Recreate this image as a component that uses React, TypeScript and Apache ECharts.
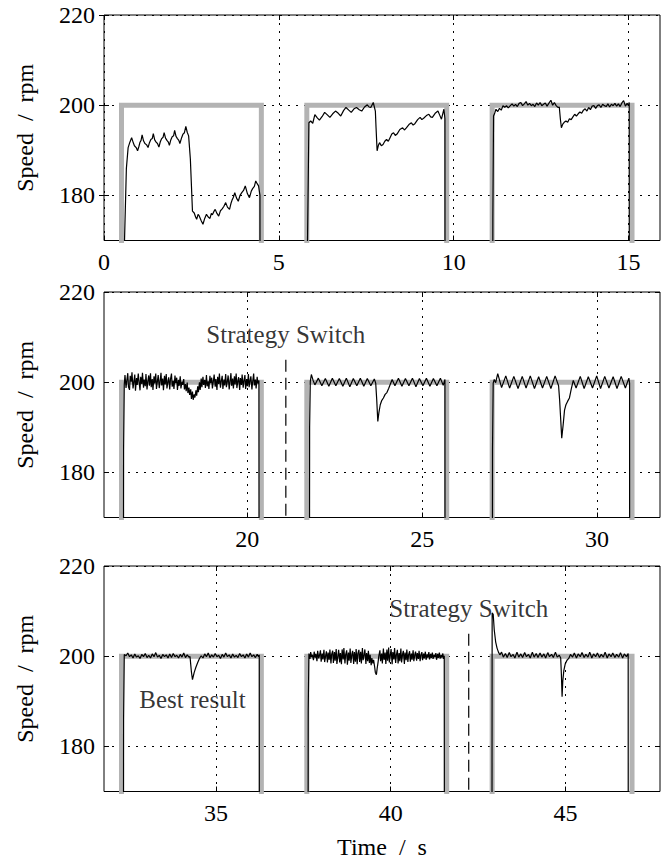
import React, { useEffect, useRef } from "react";
import * as echarts from "echarts";

// ---- axes ----
const panelMin = [0, 15.9, 31.8];
const panelMax = [15.9, 31.8, 47.7];
const xTickValues = [
  [0, 5, 10, 15],
  [20, 25, 30],
  [35, 40, 45],
];
const yTickValues = [180, 200, 220];
const yMin = 170;
const yMax = 220;

// ---- reference speed (pulses: on at 200 rpm, off at 0 rpm) ----
const pulseOn = [0.5, 5.8, 11.1, 16.4, 21.7, 27.0, 32.3, 37.6, 42.9];
const pulseOff = [4.5, 9.8, 15.1, 20.4, 25.7, 31.0, 36.3, 41.6, 46.9];
const refLevel = 200;
const refOffLevel = 0;

// ---- measured speed, one array per pulse: [time s, speed rpm] ----
const speed1: number[][] = [
  [0.55, 0], [0.58, 168], [0.64, 186], [0.69, 190.6], [0.74, 191.8], [0.79, 192.8], [0.84, 191.6], [0.87, 191.0], [0.92, 190.6], [0.96, 189.9],
  [1.00, 190.9], [1.03, 191.8], [1.06, 192.2], [1.09, 193.4], [1.13, 192.1], [1.17, 191.5], [1.22, 191.2], [1.26, 190.6], [1.30, 191.7], [1.34, 192.4], [1.38, 192.6], [1.41, 193.7], [1.45, 192.3], [1.49, 191.8],
  [1.53, 191.5], [1.57, 190.7], [1.61, 191.9], [1.65, 192.6], [1.69, 192.9], [1.72, 193.9], [1.76, 192.7], [1.80, 192.2], [1.84, 191.8], [1.87, 191.1], [1.91, 192.3], [1.95, 193.0],
  [1.99, 193.2], [2.02, 194.4], [2.06, 193.1], [2.10, 192.6], [2.14, 192.2], [2.17, 191.5], [2.22, 192.8], [2.26, 193.6], [2.30, 193.9], [2.34, 195.3], [2.38, 194.0], [2.42, 193.2], [2.47, 188],
  [2.53, 176.5], [2.58, 176.1], [2.62, 175.2], [2.65, 174.7], [2.69, 175.8], [2.72, 175.5], [2.78, 174.4], [2.83, 173.6], [2.88, 174.9], [2.93, 175.8], [2.98, 175.2], [3.03, 174.9],
  [3.07, 176.0], [3.10, 175.7], [3.14, 176.4], [3.18, 176.9], [3.23, 176.0], [3.28, 175.4], [3.33, 176.6], [3.38, 177.0], [3.43, 177.6], [3.48, 178.4], [3.53, 177.4], [3.59, 176.9], [3.63, 178.2], [3.66, 178.9], [3.70, 179.6], [3.74, 180.6],
  [3.79, 179.4], [3.84, 178.7], [3.89, 180.0], [3.94, 180.6], [3.99, 181.1], [4.04, 182.1], [4.10, 180.4], [4.16, 179.5], [4.21, 180.9], [4.25, 181.5], [4.30, 182.0], [4.34, 183.2], [4.38, 182.6], [4.42, 182.1], [4.46, 180], [4.47, 0],
];
const speed2: number[][] = [
  [5.80, 0], [5.82, 170], [5.86, 196.1], [5.91, 196.5], [5.97, 196.0], [6.03, 197.9], [6.10, 197.2], [6.16, 196.7],
  [6.24, 197.5], [6.31, 198.4], [6.38, 197.9], [6.46, 197.3], [6.54, 198.1], [6.62, 198.7], [6.70, 198.2], [6.77, 197.6],
  [6.85, 198.8], [6.92, 199.5], [7.00, 198.9], [7.07, 198.4], [7.15, 199.2], [7.22, 199.5], [7.30, 199.0], [7.37, 198.7],
  [7.45, 199.6], [7.53, 200.1], [7.58, 199.6], [7.63, 199.5], [7.70, 200.6], [7.76, 198.7], [7.78, 195], [7.81, 189.9],
  [7.85, 191.2], [7.88, 191.7], [7.93, 191.0], [7.98, 191.3], [8.03, 192.0], [8.08, 192.4], [8.13, 192.0], [8.18, 192.8],
  [8.23, 193.6], [8.28, 193.9], [8.33, 193.3], [8.38, 193.6], [8.46, 194.6], [8.54, 195.0], [8.59, 194.5], [8.64, 194.9],
  [8.72, 195.7], [8.79, 196.1], [8.84, 195.6], [8.89, 195.9], [8.97, 196.8], [9.04, 197.3], [9.09, 196.8], [9.14, 197.1],
  [9.22, 197.7], [9.29, 198.0], [9.34, 197.4], [9.39, 197.3], [9.47, 198.2], [9.55, 198.7], [9.60, 197.8], [9.65, 196.9],
  [9.72, 199.1], [9.75, 197], [9.76, 0],
];
const speed3: number[][] = [
  [11.10, 0], [11.12, 175], [11.14, 197.6], [11.18, 198.4], [11.21, 199.1], [11.26, 198.6], [11.31, 199.3], [11.36, 198.9],
  [11.41, 199.9], [11.46, 199.5], [11.51, 199.9], [11.56, 199.4], [11.62, 199.9], [11.67, 200.3], [11.72, 199.8], [11.77, 200.2],
  [11.82, 199.7], [11.87, 200.4], [11.92, 200.6], [11.97, 199.9], [12.02, 200.3], [12.07, 200.8], [12.12, 200.0], [12.17, 200.4],
  [12.22, 199.9], [12.27, 200.2], [12.32, 199.7], [12.37, 200.5], [12.42, 200.0], [12.47, 200.6], [12.52, 199.9], [12.57, 200.2],
  [12.62, 200.5], [12.67, 199.8], [12.72, 200.4], [12.78, 201.1], [12.83, 200.0], [12.88, 200.6], [12.93, 199.9], [12.98, 199.5],
  [13.02, 199.6], [13.05, 197], [13.08, 195.0], [13.12, 195.8], [13.16, 196.2], [13.21, 196.5], [13.26, 196.2], [13.31, 197.0],
  [13.36, 196.8], [13.41, 197.4], [13.46, 198.0], [13.51, 197.6], [13.56, 198.1], [13.61, 198.5], [13.66, 198.2], [13.71, 198.9],
  [13.76, 199.2], [13.81, 198.7], [13.86, 199.5], [13.91, 199.0], [13.96, 199.8], [14.01, 199.9], [14.06, 199.3], [14.11, 199.9],
  [14.16, 200.1], [14.21, 199.5], [14.26, 200.2], [14.31, 199.9], [14.36, 199.7], [14.41, 200.3], [14.46, 199.6], [14.51, 200.2],
  [14.56, 199.9], [14.61, 200.4], [14.66, 199.8], [14.71, 200.3], [14.76, 199.7], [14.81, 200.5], [14.86, 201.0], [14.91, 199.8],
  [14.96, 200.4], [15.00, 199.9], [15.02, 200.6], [15.03, 0],
];
const speed4: number[][] = [
  [16.44, 0], [16.46, 185], [16.48, 199.5], [16.50, 201.6], [16.53, 198.7], [16.55, 200.2], [16.58, 202.0], [16.60, 199.0],
  [16.63, 198.3], [16.65, 201.4], [16.68, 200.1], [16.70, 202.2], [16.73, 198.6], [16.75, 199.8], [16.78, 201.7], [16.80, 198.1],
  [16.83, 200.9], [16.85, 199.4], [16.88, 201.9], [16.90, 200.3], [16.93, 198.2], [16.95, 201.2], [16.98, 199.6], [17.00, 202.1],
  [17.03, 198.8], [17.05, 200.6], [17.08, 199.1], [17.10, 201.8], [17.13, 198.4], [17.15, 200.0], [17.18, 201.5], [17.20, 199.2],
  [17.23, 202.0], [17.25, 198.9], [17.28, 200.7], [17.30, 198.3], [17.33, 201.3], [17.35, 199.7], [17.38, 201.9], [17.40, 198.5],
  [17.43, 200.4], [17.45, 201.6], [17.48, 198.7], [17.50, 199.9], [17.53, 202.1], [17.55, 199.3], [17.58, 200.8], [17.60, 198.2],
  [17.63, 201.4], [17.65, 199.5], [17.68, 201.8], [17.70, 198.6], [17.73, 200.2], [17.75, 201.1], [17.78, 198.4], [17.80, 200.6],
  [17.83, 201.9], [17.85, 199.0], [17.88, 200.3], [17.90, 198.5], [17.93, 201.5], [17.95, 199.8], [17.98, 201.0], [18.00, 198.3],
  [18.03, 200.5], [18.05, 199.2], [18.08, 201.3], [18.10, 198.6], [18.13, 200.1], [18.15, 199.4], [18.18, 200.7], [18.20, 198.4],
  [18.23, 199.6], [18.25, 198.0], [18.28, 199.9], [18.30, 197.6], [18.33, 198.8], [18.35, 197.2], [18.38, 198.4], [18.40, 196.3],
  [18.43, 197.9], [18.45, 196.1], [18.48, 197.3], [18.50, 196.6], [18.53, 198.2], [18.55, 197.0], [18.58, 199.1], [18.60, 197.8],
  [18.63, 200.0], [18.65, 198.3], [18.68, 200.8], [18.70, 198.9], [18.73, 201.2], [18.75, 199.4], [18.78, 200.5], [18.80, 198.7],
  [18.83, 201.6], [18.85, 199.1], [18.88, 200.2], [18.90, 198.5], [18.93, 201.4], [18.95, 199.8], [18.98, 201.0], [19.00, 198.6],
  [19.03, 200.4], [19.05, 201.7], [19.08, 199.0], [19.10, 200.7], [19.13, 198.3], [19.15, 201.2], [19.18, 199.6], [19.20, 201.9],
  [19.23, 198.8], [19.25, 200.1], [19.28, 201.4], [19.30, 198.5], [19.33, 200.6], [19.35, 199.3], [19.38, 201.8], [19.40, 198.9],
  [19.43, 200.3], [19.45, 201.5], [19.48, 198.4], [19.50, 199.9], [19.53, 202.0], [19.55, 199.2], [19.58, 200.8], [19.60, 198.6],
  [19.63, 201.3], [19.65, 199.5], [19.68, 201.9], [19.70, 198.7], [19.73, 200.4], [19.75, 201.1], [19.78, 198.3], [19.80, 200.9],
  [19.83, 199.4], [19.85, 201.7], [19.88, 198.8], [19.90, 200.2], [19.93, 201.6], [19.95, 198.5], [19.98, 200.7], [20.00, 199.1],
  [20.03, 201.8], [20.05, 198.9], [20.08, 200.5], [20.10, 201.3], [20.13, 198.4], [20.15, 200.0], [20.18, 201.9], [20.20, 199.3],
  [20.23, 200.6], [20.25, 198.6], [20.28, 201.2], [20.30, 199.7], [20.33, 200.4], [20.35, 0],
];
const speed5: number[][] = [
  [21.76, 0], [21.78, 190], [21.80, 200.2], [21.83, 201.7], [21.88, 200.4], [21.93, 199.4], [22.03, 200.9], [22.13, 199.2],
  [22.23, 200.8], [22.33, 199.1], [22.43, 200.9], [22.53, 199.2], [22.63, 200.8], [22.73, 199.1], [22.83, 200.9], [22.93, 199.0],
  [23.03, 200.8], [23.13, 199.2], [23.23, 200.9], [23.33, 199.1], [23.43, 200.8], [23.53, 199.2], [23.63, 200.7], [23.67, 199.8],
  [23.70, 196], [23.73, 191.3], [23.76, 193.2], [23.80, 195.0], [23.84, 195.9], [23.89, 196.5], [23.94, 197.3], [23.99, 197.7],
  [24.04, 198.6], [24.09, 199.6], [24.14, 200.6], [24.22, 199.2], [24.32, 200.9], [24.42, 199.1], [24.52, 200.8], [24.62, 199.2],
  [24.72, 200.9], [24.82, 199.0], [24.92, 200.8], [25.02, 199.2], [25.12, 200.9], [25.22, 199.1], [25.32, 200.8], [25.42, 199.2],
  [25.52, 200.9], [25.60, 199.3], [25.65, 200.6], [25.66, 0],
];
const speed6: number[][] = [
  [26.99, 0], [27.01, 185], [27.03, 199.8], [27.06, 200.6], [27.10, 199.9], [27.16, 201.9], [27.27, 198.8], [27.39, 201.4],
  [27.50, 198.7], [27.62, 201.3], [27.74, 198.6], [27.86, 201.3], [27.97, 198.7], [28.09, 201.4], [28.21, 198.6], [28.33, 201.2],
  [28.44, 198.7], [28.56, 201.3], [28.68, 198.6], [28.80, 201.4], [28.90, 199.2], [28.93, 196], [28.99, 187.6], [29.03, 190.5],
  [29.07, 193.8], [29.11, 195.0], [29.16, 195.8], [29.21, 196.5], [29.26, 198.4], [29.32, 200.4], [29.40, 198.7], [29.52, 201.3],
  [29.63, 198.6], [29.75, 201.2], [29.87, 198.7], [29.99, 201.4], [30.10, 198.6], [30.22, 201.3], [30.34, 198.7], [30.46, 201.2],
  [30.57, 198.6], [30.69, 201.3], [30.81, 198.7], [30.91, 200.9], [30.93, 199.8], [30.94, 0],
];
const speed7: number[][] = [
  [32.34, 0], [32.36, 186], [32.38, 200.4], [32.43, 200.1], [32.48, 200.7], [32.53, 199.9], [32.58, 200.3], [32.63, 199.6],
  [32.68, 200.5], [32.73, 199.8], [32.78, 200.1], [32.83, 199.5], [32.88, 200.4], [32.93, 199.9], [32.98, 200.6], [33.03, 199.7],
  [33.08, 200.2], [33.13, 199.6], [33.18, 200.5], [33.23, 199.9], [33.28, 200.8], [33.33, 199.8], [33.38, 200.2], [33.43, 199.5],
  [33.48, 200.4], [33.53, 199.9], [33.58, 200.3], [33.63, 199.6], [33.68, 200.5], [33.73, 199.7], [33.78, 200.6], [33.83, 199.9],
  [33.88, 200.2], [33.93, 199.6], [33.98, 200.4], [34.03, 199.8], [34.08, 200.7], [34.13, 199.7], [34.18, 200.3], [34.23, 199.8],
  [34.26, 199.9], [34.30, 196.5], [34.33, 194.8], [34.38, 196.4], [34.43, 197.6], [34.48, 198.6], [34.53, 199.5], [34.58, 200.1],
  [34.63, 199.6], [34.68, 200.5], [34.73, 199.9], [34.78, 200.7], [34.83, 199.7], [34.88, 200.3], [34.93, 199.8], [34.98, 200.6],
  [35.03, 199.9], [35.08, 200.2], [35.13, 199.5], [35.18, 200.4], [35.23, 199.8], [35.28, 200.7], [35.33, 199.9], [35.38, 200.3],
  [35.43, 199.6], [35.48, 200.5], [35.53, 199.8], [35.58, 200.2], [35.63, 199.7], [35.68, 200.6], [35.73, 199.9], [35.78, 200.3],
  [35.83, 199.6], [35.88, 200.5], [35.93, 199.8], [35.98, 200.7], [36.03, 199.9], [36.08, 200.3], [36.13, 199.7], [36.18, 200.4],
  [36.22, 199.9], [36.24, 200.3], [36.25, 0],
];
const speed8: number[][] = [
  [37.62, 0], [37.64, 188], [37.66, 200.6], [37.69, 199.4], [37.71, 200.9], [37.74, 199.8], [37.76, 200.3], [37.79, 199.1],
  [37.81, 201.0], [37.84, 199.7], [37.86, 200.5], [37.89, 198.9], [37.91, 201.2], [37.94, 199.5], [37.96, 200.1], [37.99, 201.3],
  [38.01, 198.8], [38.04, 200.6], [38.06, 199.3], [38.09, 201.4], [38.11, 198.7], [38.14, 200.2], [38.16, 201.1], [38.19, 198.6],
  [38.21, 200.8], [38.24, 199.2], [38.26, 201.5], [38.29, 198.4], [38.31, 200.4], [38.34, 201.2], [38.36, 198.5], [38.39, 200.9],
  [38.41, 199.0], [38.44, 201.6], [38.46, 198.3], [38.49, 200.1], [38.51, 201.4], [38.54, 198.6], [38.56, 200.7], [38.59, 198.2],
  [38.61, 201.5], [38.64, 199.3], [38.66, 201.8], [38.69, 198.4], [38.71, 200.3], [38.74, 201.3], [38.76, 198.1], [38.79, 200.8],
  [38.81, 199.0], [38.84, 201.7], [38.86, 198.5], [38.89, 200.5], [38.91, 201.2], [38.94, 198.3], [38.96, 200.9], [38.99, 198.8],
  [39.01, 201.6], [39.04, 198.2], [39.06, 200.6], [39.09, 201.4], [39.11, 198.7], [39.14, 201.0], [39.16, 198.4], [39.19, 201.8],
  [39.21, 199.1], [39.24, 200.4], [39.26, 201.5], [39.29, 198.3], [39.31, 200.7], [39.34, 198.9], [39.36, 201.2], [39.39, 198.5],
  [39.41, 200.3], [39.44, 198.0], [39.46, 199.6], [39.49, 198.4], [39.51, 199.2], [39.54, 197.6], [39.56, 196.4], [39.59, 195.9],
  [39.61, 197.2], [39.64, 198.8], [39.66, 200.1], [39.69, 201.3], [39.71, 198.9], [39.74, 200.6], [39.76, 198.4], [39.79, 201.7],
  [39.81, 199.2], [39.84, 200.8], [39.86, 198.3], [39.89, 201.5], [39.91, 199.0], [39.94, 201.9], [39.96, 198.6], [39.99, 200.4],
  [40.01, 201.6], [40.04, 198.2], [40.06, 200.9], [40.09, 199.3], [40.11, 201.8], [40.14, 198.5], [40.16, 200.2], [40.19, 201.4],
  [40.21, 198.4], [40.24, 200.7], [40.26, 198.9], [40.29, 201.7], [40.31, 198.6], [40.34, 200.5], [40.36, 201.2], [40.39, 198.3],
  [40.41, 200.8], [40.44, 199.1], [40.46, 201.5], [40.49, 198.7], [40.51, 200.3], [40.54, 201.1], [40.56, 198.8], [40.59, 200.6],
  [40.61, 199.2], [40.64, 201.3], [40.66, 198.9], [40.69, 200.4], [40.71, 201.0], [40.74, 199.0], [40.76, 200.7], [40.79, 199.4],
  [40.81, 201.2], [40.84, 198.9], [40.86, 200.2], [40.89, 200.9], [40.91, 199.1], [40.94, 200.6], [40.96, 199.5], [40.99, 201.0],
  [41.01, 199.2], [41.04, 200.4], [41.06, 199.7], [41.09, 200.9], [41.11, 199.3], [41.14, 200.5], [41.16, 199.6], [41.19, 200.8],
  [41.21, 199.4], [41.24, 200.3], [41.26, 199.8], [41.29, 200.7], [41.31, 199.2], [41.34, 200.5], [41.36, 199.6], [41.39, 200.8],
  [41.41, 199.5], [41.44, 200.2], [41.46, 199.7], [41.49, 200.6], [41.51, 199.4], [41.53, 200.1], [41.55, 0],
];
const speed9: number[][] = [
  [42.88, 0], [42.90, 209.6], [42.93, 209.3], [42.96, 205.8], [43.00, 203.2], [43.04, 201.8], [43.08, 200.9], [43.12, 200.3],
  [43.17, 200.9], [43.22, 199.8], [43.28, 200.6], [43.33, 199.7], [43.39, 200.8], [43.44, 199.9], [43.50, 200.4], [43.55, 199.6],
  [43.61, 200.9], [43.66, 199.8], [43.72, 200.5], [43.77, 199.7], [43.83, 200.8], [43.88, 199.9], [43.94, 200.4], [43.99, 199.6],
  [44.05, 200.9], [44.10, 199.8], [44.16, 200.6], [44.21, 199.7], [44.27, 200.7], [44.32, 199.8], [44.38, 200.5], [44.43, 199.6],
  [44.49, 200.8], [44.54, 199.9], [44.60, 200.4], [44.65, 199.7], [44.71, 200.9], [44.76, 199.8], [44.82, 200.2], [44.86, 199.6],
  [44.88, 196], [44.90, 191.0], [44.92, 194.5], [44.95, 196.8], [44.99, 198.3], [45.04, 199.1], [45.09, 199.5], [45.14, 200.4],
  [45.20, 199.8], [45.25, 200.7], [45.31, 199.6], [45.36, 200.5], [45.42, 199.9], [45.47, 200.8], [45.53, 199.7], [45.58, 200.4],
  [45.64, 199.8], [45.69, 200.9], [45.75, 199.6], [45.80, 200.5], [45.86, 199.9], [45.91, 200.7], [45.97, 199.7], [46.02, 200.4],
  [46.08, 199.8], [46.13, 200.9], [46.19, 199.6], [46.24, 200.5], [46.30, 199.9], [46.35, 200.7], [46.41, 199.7], [46.46, 200.4],
  [46.52, 199.8], [46.57, 200.8], [46.63, 199.6], [46.68, 200.5], [46.74, 199.9], [46.79, 200.6], [46.80, 0],
];
const speedByPanel = [
  [speed1, speed2, speed3],
  [speed4, speed5, speed6],
  [speed7, speed8, speed9],
];

// ---- annotations ----
const switchTimes = [null, 21.1, 42.23];
const switchLineTop = 205;
const switchLabelLevel = 210.6;
const switchLabel = "Strategy Switch";
const bestLabel = "Best result";
const bestPoint = [34.33, 190.5];

const FONT = "Liberation Serif";
const GRID_TOPS = [15, 292, 566];
const GRID_H = 225.5;

export default function App() {
  const ref = useRef<HTMLDivElement>(null);
  useEffect(() => {
    if (!ref.current) return;
    const chart = echarts.init(ref.current, undefined, { renderer: "svg" });

    const refData: number[][] = [];
    pulseOn.forEach((on, k) => {
      refData.push([on, refOffLevel], [on, refLevel], [pulseOff[k], refLevel], [pulseOff[k], refOffLevel]);
      if (k + 1 < pulseOn.length) refData.push([pulseOn[k + 1], refOffLevel]);
    });

    const grids: any[] = [];
    const xAxes: any[] = [];
    const yAxes: any[] = [];
    const series: any[] = [];
    const dotted = { color: "#000", width: 1, type: [2, 6] };
    const tickText = { fontSize: 24, fontFamily: FONT, color: "#000" };

    for (let i = 0; i < 3; i++) {
      grids.push({
        left: 104, width: 556, top: GRID_TOPS[i], height: GRID_H,
        show: true, borderColor: "#000", borderWidth: 1, backgroundColor: "transparent",
      });
      xAxes.push({
        type: "value", gridIndex: i, min: panelMin[i], max: panelMax[i], position: "bottom",
        axisLine: { show: false },
        axisTick: { show: true, inside: true, length: 5, customValues: xTickValues[i], lineStyle: { color: "#000" } },
        axisLabel: { customValues: xTickValues[i], ...tickText, margin: 9 },
        splitLine: { show: true, lineStyle: dotted },
        name: i === 2 ? "Time \u00A0/\u00A0 s" : "",
        nameLocation: "middle", nameGap: 43,
        nameTextStyle: { ...tickText },
      });
      xAxes.push({
        type: "value", gridIndex: i, min: panelMin[i], max: panelMax[i], position: "top",
        axisLine: { show: false },
        axisTick: { show: true, inside: true, length: 5, customValues: xTickValues[i], lineStyle: { color: "#000" } },
        axisLabel: { show: false },
        splitLine: { show: false },
      });
      yAxes.push({
        type: "value", gridIndex: i, min: yMin, max: yMax, position: "left",
        axisLine: { show: false },
        axisTick: { show: true, inside: true, length: 5, customValues: yTickValues, lineStyle: { color: "#000" } },
        axisLabel: { customValues: yTickValues, ...tickText, margin: 9 },
        splitLine: { show: true, lineStyle: dotted },
        name: "Speed \u00A0/\u00A0 rpm", nameLocation: "middle", nameGap: 67,
        nameTextStyle: { ...tickText },
      });
      yAxes.push({
        type: "value", gridIndex: i, min: yMin, max: yMax, position: "right",
        axisLine: { show: false },
        axisTick: { show: true, inside: true, length: 5, customValues: yTickValues, lineStyle: { color: "#000" } },
        axisLabel: { show: false },
        splitLine: { show: false },
      });

      const xi = i * 2;
      const yi = i * 2;
      series.push({
        type: "line", xAxisIndex: xi, yAxisIndex: yi, data: refData, symbol: "none", silent: true,
        lineStyle: { color: "#b3b3b3", width: 5, cap: "butt", join: "miter" }, z: 2,
      });
      speedByPanel[i].forEach((d) => {
        series.push({
          type: "line", xAxisIndex: xi, yAxisIndex: yi, data: d, symbol: "none", silent: true,
          lineStyle: { color: "#000", width: 1.2 }, z: 3,
        });
      });
      const sw = switchTimes[i];
      if (sw !== null) {
        series.push({
          type: "line", xAxisIndex: xi, yAxisIndex: yi, data: [[sw, switchLineTop], [sw, yMin]],
          symbol: "none", silent: true, lineStyle: { color: "#000", width: 1.2, type: [12, 6] }, z: 3,
        });
        series.push({
          type: "scatter", xAxisIndex: xi, yAxisIndex: yi, data: [[sw, switchLabelLevel]],
          symbolSize: 1, itemStyle: { color: "rgba(0,0,0,0)" }, silent: true, z: 4,
          label: { show: true, position: "inside", formatter: switchLabel, fontSize: 25, fontFamily: FONT, color: "#000" },
        });
      }
      if (i === 2) {
        series.push({
          type: "scatter", xAxisIndex: xi, yAxisIndex: yi, data: [bestPoint],
          symbolSize: 1, itemStyle: { color: "rgba(0,0,0,0)" }, silent: true, z: 4,
          label: { show: true, position: "inside", formatter: bestLabel, fontSize: 25, fontFamily: FONT, color: "#000" },
        });
      }
    }

    chart.setOption({
      animation: false,
      backgroundColor: "#fff",
      textStyle: { fontFamily: FONT, color: "#000" },
      grid: grids,
      xAxis: xAxes,
      yAxis: yAxes,
      series,
    });
    return () => chart.dispose();
  }, []);
  return <div ref={ref} style={{ position: "fixed", left: 0, top: 0, width: 665, height: 861 }} />;
}
